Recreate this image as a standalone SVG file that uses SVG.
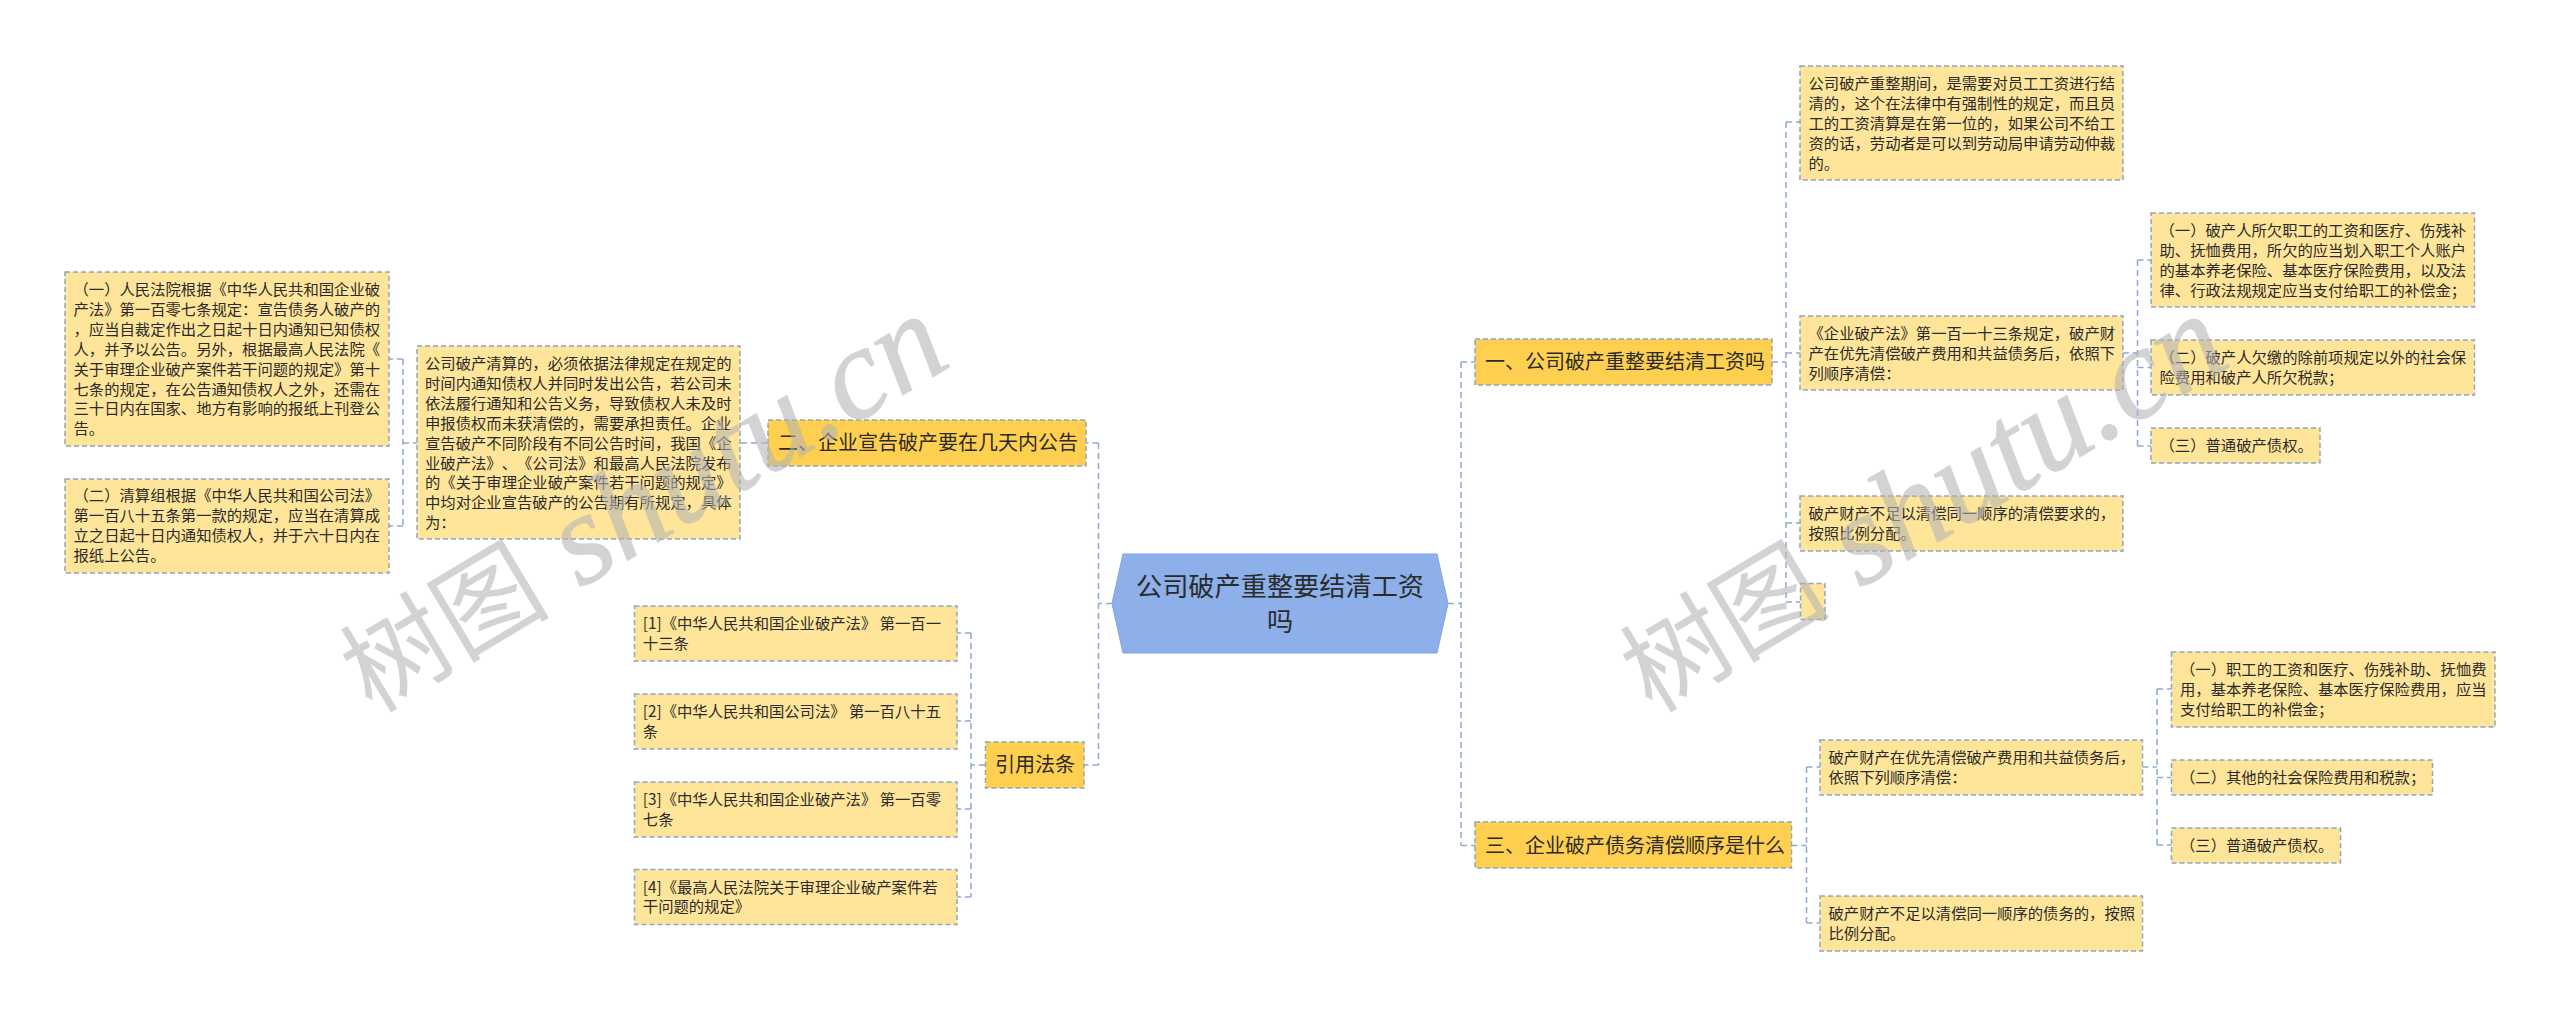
<svg xmlns="http://www.w3.org/2000/svg" width="2560" height="1017" viewBox="0 0 2560 1017">
<style>
text{font-family:"Noto Sans CJK SC","Liberation Sans",sans-serif;fill:#2b2b2b;text-spacing-trim:space-all;font-kerning:none}
.n rect{fill:#ffe599;stroke:#8ea6c4;stroke-width:1.5;stroke-dasharray:5 3}
.n text{font-size:15.33px}
.t rect{fill:#ffd04f;stroke:#8ea6c4;stroke-width:1.5;stroke-dasharray:5 3}
.t text{font-size:20px}
.c path{fill:none;stroke:#8fa9d8;stroke-width:1.5;stroke-dasharray:6 4}
.w{font-family:"Liberation Serif","Noto Sans CJK SC",serif;font-size:130px;font-style:italic;fill:#b4b4b4;stroke:#b4b4b4;stroke-width:1;opacity:.58}
.w tspan{font-family:"Noto Sans CJK SC",sans-serif;font-size:105px;font-style:normal;stroke-width:0}
</style>
<rect width="2560" height="1017" fill="#fff"/>
<g id="connectors" class="c">
<path d="M1112 603.500H1098.500M1098.500 443V765M1098.500 443H1086M1098.500 765H1084"/>
<path d="M1448 603.500H1461M1461 362V845.500M1461 362H1475M1461 845.500H1475"/>
<path d="M767 443H740M403 359V526M403 359H389M403 526H389M403 443H417"/>
<path d="M985 765H971M971 633V897M971 633H957M971 721H957M971 809H957M971 897H957"/>
<path d="M1772 362H1786M1786 122V602M1786 122H1800M1786 353H1800M1786 523H1800M1786 602H1800"/>
<path d="M2123 353H2137.500M2137.500 260V446M2137.500 260H2151M2137.500 367.500H2151M2137.500 446H2151"/>
<path d="M1791.500 845.500H1806.500M1806.500 767V923M1806.500 767H1820M1806.500 923H1820"/>
<path d="M2142.500 767H2157M2157 689V845M2157 689H2171.500M2157 777.500H2171.500M2157 845H2171.500"/>
</g>
<g id="root"><path d="M1123 554H1437L1448 603.500L1437 653H1123L1112 603.500Z" fill="#8db0ea" stroke="#7fa3de" stroke-width="1"/>
<text x="1280" y="596" text-anchor="middle" style="font-size:26.200px">公司破产重整要结清工资</text><text x="1280" y="631" text-anchor="middle" style="font-size:26.200px">吗</text></g>
<g id="topic1" class="t"><rect x="1475" y="339" width="297" height="46"/><text x="1485" y="369">一、公司破产重整要结清工资吗</text></g>
<g id="topic2" class="t"><rect x="768" y="420" width="318" height="46"/><text x="778" y="450">二、企业宣告破产要在几天内公告</text></g>
<g id="topic3" class="t"><rect x="1475" y="822" width="316.500" height="46"/><text x="1485" y="853">三、企业破产债务清偿顺序是什么</text></g>
<g id="topic4" class="t"><rect x="985.500" y="742" width="98.500" height="46"/><text x="995" y="772">引用法条</text></g>
<g id="a1" class="n"><rect x="65" y="272" width="324" height="174"/><text><tspan x="73.500" y="295">&#xFF08;一&#xFF09;人民法院根据《中华人民共和国企业破</tspan><tspan x="73.500" y="314.900">产法》第一百零七条规定&#xFF1A;宣告债务人破产的</tspan><tspan x="73.500" y="334.800">&#xFF0C;应当自裁定作出之日起十日内通知已知债权</tspan><tspan x="73.500" y="354.700">人&#xFF0C;并予以公告。另外&#xFF0C;根据最高人民法院《</tspan><tspan x="73.500" y="374.600">关于审理企业破产案件若干问题的规定》第十</tspan><tspan x="73.500" y="394.500">七条的规定&#xFF0C;在公告通知债权人之外&#xFF0C;还需在</tspan><tspan x="73.500" y="414.400">三十日内在国家、地方有影响的报纸上刊登公</tspan><tspan x="73.500" y="434.300">告。</tspan></text></g>
<g id="a2" class="n"><rect x="65" y="479" width="324" height="94"/><text><tspan x="73.500" y="501">&#xFF08;二&#xFF09;清算组根据《中华人民共和国公司法》</tspan><tspan x="73.500" y="520.900">第一百八十五条第一款的规定&#xFF0C;应当在清算成</tspan><tspan x="73.500" y="540.800">立之日起十日内通知债权人&#xFF0C;并于六十日内在</tspan><tspan x="73.500" y="560.700">报纸上公告。</tspan></text></g>
<g id="a3" class="n"><rect x="417" y="346" width="323" height="193"/><text><tspan x="425" y="369">公司破产清算的&#xFF0C;必须依据法律规定在规定的</tspan><tspan x="425" y="388.900">时间内通知债权人并同时发出公告&#xFF0C;若公司未</tspan><tspan x="425" y="408.800">依法履行通知和公告义务&#xFF0C;导致债权人未及时</tspan><tspan x="425" y="428.700">申报债权而未获清偿的&#xFF0C;需要承担责任。企业</tspan><tspan x="425" y="448.600">宣告破产不同阶段有不同公告时间&#xFF0C;我国《企</tspan><tspan x="425" y="468.500">业破产法》、《公司法》和最高人民法院发布</tspan><tspan x="425" y="488.400">的《关于审理企业破产案件若干问题的规定》</tspan><tspan x="425" y="508.300">中均对企业宣告破产的公告期有所规定&#xFF0C;具体</tspan><tspan x="425" y="528.200">为&#xFF1A;</tspan></text></g>
<g id="b1" class="n"><rect x="634.500" y="606" width="322.500" height="55"/><text><tspan x="642.800" y="629">[1]《中华人民共和国企业破产法》 第一百一</tspan><tspan x="642.800" y="648.900">十三条</tspan></text></g>
<g id="b2" class="n"><rect x="634.500" y="694" width="322.500" height="55"/><text><tspan x="642.800" y="717">[2]《中华人民共和国公司法》 第一百八十五</tspan><tspan x="642.800" y="736.900">条</tspan></text></g>
<g id="b3" class="n"><rect x="634.500" y="782" width="322.500" height="55"/><text><tspan x="642.800" y="805">[3]《中华人民共和国企业破产法》 第一百零</tspan><tspan x="642.800" y="824.900">七条</tspan></text></g>
<g id="b4" class="n"><rect x="634.500" y="869.500" width="322.500" height="55"/><text><tspan x="642.800" y="892.500">[4]《最高人民法院关于审理企业破产案件若</tspan><tspan x="642.800" y="912.400">干问题的规定》</tspan></text></g>
<g id="p1" class="n"><rect x="1800" y="66" width="323" height="114"/><text><tspan x="1808.500" y="89">公司破产重整期间&#xFF0C;是需要对员工工资进行结</tspan><tspan x="1808.500" y="108.900">清的&#xFF0C;这个在法律中有强制性的规定&#xFF0C;而且员</tspan><tspan x="1808.500" y="128.800">工的工资清算是在第一位的&#xFF0C;如果公司不给工</tspan><tspan x="1808.500" y="148.700">资的话&#xFF0C;劳动者是可以到劳动局申请劳动仲裁</tspan><tspan x="1808.500" y="168.600">的。</tspan></text></g>
<g id="p2" class="n"><rect x="1800" y="316" width="323" height="74"/><text><tspan x="1808.500" y="339">《企业破产法》第一百一十三条规定&#xFF0C;破产财</tspan><tspan x="1808.500" y="358.900">产在优先清偿破产费用和共益债务后&#xFF0C;依照下</tspan><tspan x="1808.500" y="378.800">列顺序清偿&#xFF1A;</tspan></text></g>
<g id="p3" class="n"><rect x="1800" y="496" width="323" height="55"/><text><tspan x="1808.500" y="519">破产财产不足以清偿同一顺序的清偿要求的&#xFF0C;</tspan><tspan x="1808.500" y="538.900">按照比例分配。</tspan></text></g>
<g id="p4" class="n"><rect x="1800.500" y="583.500" width="24.500" height="36"/></g>
<g id="c1" class="n"><rect x="2151" y="213" width="323.500" height="94"/><text><tspan x="2159.500" y="236">&#xFF08;一&#xFF09;破产人所欠职工的工资和医疗、伤残补</tspan><tspan x="2159.500" y="255.900">助、抚恤费用&#xFF0C;所欠的应当划入职工个人账户</tspan><tspan x="2159.500" y="275.800">的基本养老保险、基本医疗保险费用&#xFF0C;以及法</tspan><tspan x="2159.500" y="295.700">律、行政法规规定应当支付给职工的补偿金&#xFF1B;</tspan></text></g>
<g id="c2" class="n"><rect x="2151" y="340" width="323.500" height="55"/><text><tspan x="2159.500" y="363">&#xFF08;二&#xFF09;破产人欠缴的除前项规定以外的社会保</tspan><tspan x="2159.500" y="382.900">险费用和破产人所欠税款&#xFF1B;</tspan></text></g>
<g id="c3" class="n"><rect x="2151" y="428" width="169" height="35"/><text><tspan x="2159.500" y="451">&#xFF08;三&#xFF09;普通破产债权。</tspan></text></g>
<g id="q1" class="n"><rect x="1820" y="740" width="322.500" height="55"/><text><tspan x="1828.500" y="763">破产财产在优先清偿破产费用和共益债务后&#xFF0C;</tspan><tspan x="1828.500" y="782.900">依照下列顺序清偿&#xFF1A;</tspan></text></g>
<g id="q2" class="n"><rect x="1820" y="896" width="322.500" height="55"/><text><tspan x="1828.500" y="919">破产财产不足以清偿同一顺序的债务的&#xFF0C;按照</tspan><tspan x="1828.500" y="938.900">比例分配。</tspan></text></g>
<g id="r1" class="n"><rect x="2171.500" y="652" width="323.500" height="75"/><text><tspan x="2180" y="675">&#xFF08;一&#xFF09;职工的工资和医疗、伤残补助、抚恤费</tspan><tspan x="2180" y="694.900">用&#xFF0C;基本养老保险、基本医疗保险费用&#xFF0C;应当</tspan><tspan x="2180" y="714.800">支付给职工的补偿金&#xFF1B;</tspan></text></g>
<g id="r2" class="n"><rect x="2171.500" y="760" width="261" height="35"/><text><tspan x="2180" y="783">&#xFF08;二&#xFF09;其他的社会保险费用和税款&#xFF1B;</tspan></text></g>
<g id="r3" class="n"><rect x="2171.500" y="828" width="169" height="35"/><text><tspan x="2180" y="851">&#xFF08;三&#xFF09;普通破产债权。</tspan></text></g>
<text class="w" transform="translate(372 714) rotate(-31)"><tspan>树图</tspan> shutu.cn</text>
<text class="w" transform="translate(1652 714) rotate(-31)"><tspan>树图</tspan> shutu.cn</text>
</svg>
